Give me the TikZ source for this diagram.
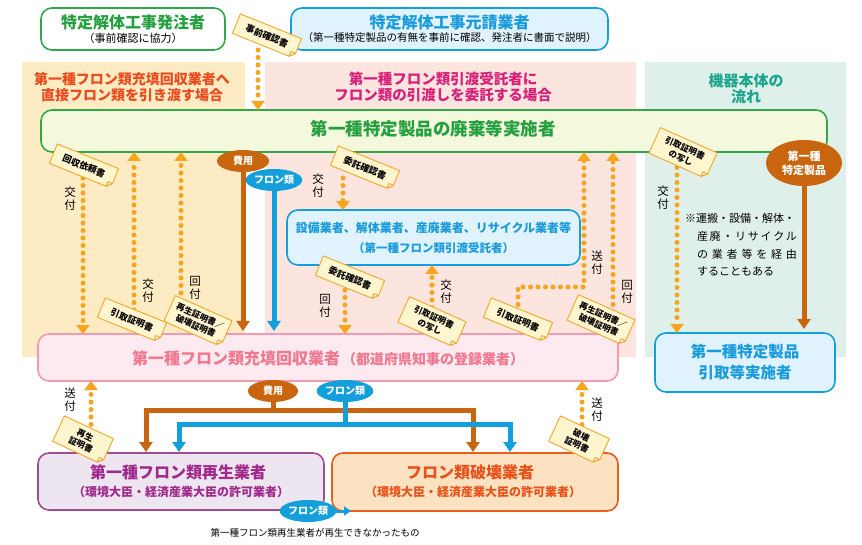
\documentclass[tikz,border=0pt]{standalone}
\usepackage{fontspec}
\setmainfont{Noto Sans CJK JP}
\usetikzlibrary{arrows.meta,calc,shapes.geometric}
\pgfdeclarelayer{mid}
\pgfdeclarelayer{tagbg}
\pgfdeclarelayer{tagfg}
\pgfsetlayers{main,mid,tagbg,tagfg}
\definecolor{dotc}{HTML}{F8A41C}
\definecolor{brownc}{HTML}{C8650E}
\definecolor{bluec}{HTML}{129FDB}
\definecolor{bluet}{HTML}{1A9BDB}
\definecolor{bluefill}{HTML}{E0F3FC}
\definecolor{greenb}{HTML}{33A64A}
\definecolor{greent}{HTML}{25A040}
\definecolor{mainfill}{HTML}{F4F8DC}
\definecolor{pinkb}{HTML}{F19BB2}
\definecolor{pinkfill}{HTML}{FDEAF0}
\definecolor{pinkt}{HTML}{F0788F}
\definecolor{purpb}{HTML}{A24A92}
\definecolor{purpfill}{HTML}{EDE6F0}
\definecolor{purpt}{HTML}{A0298B}
\definecolor{orgb}{HTML}{E85C1C}
\definecolor{orgfill}{HTML}{FDE2C2}
\definecolor{orgt}{HTML}{E8521A}
\definecolor{hLc}{HTML}{EA4B1D}
\definecolor{hMc}{HTML}{D8207A}
\definecolor{hRc}{HTML}{1CA58C}
\definecolor{panL}{HTML}{FDEBC3}
\definecolor{panM}{HTML}{FBE5DE}
\definecolor{panR}{HTML}{DFF0EB}
\definecolor{tagfill}{HTML}{FFF5CF}
\definecolor{tagline}{HTML}{F5A529}
\definecolor{foldfill}{HTML}{FFFBEA}
\newcommand\fsz[1]{\fontsize{#1}{#1}\selectfont}
\newcommand\tagnote[6]{% name, x, y, angle, style, text
  \begin{pgfonlayer}{tagfg}
  \node[#5, rotate=#4] (#1) at (#2,#3) {#6};
  \end{pgfonlayer}
  \begin{pgfonlayer}{tagbg}
  \coordinate (#1a) at ($(#1.south east)!5pt!(#1.north east)$);
  \coordinate (#1b) at ($(#1.south east)!5pt!(#1.south west)$);
  \filldraw[tagedge] (#1.north west) -- (#1.north east) -- (#1a) -- (#1b) -- (#1.south west) -- cycle;
  \filldraw[tagfoldst] (#1a) -- (#1b) -- ($(#1a)+(#1b)-(#1.south east)$) -- cycle;
  \end{pgfonlayer}
}
\begin{document}
\begin{tikzpicture}[x=1pt,y=-1pt,
  every node/.style={inner sep=0pt, outer sep=0pt},
  rbox/.style={rounded corners=11pt, line width=1.6pt, inner sep=0pt},
  tagone/.style={font=\bfseries\fsz{9}, align=center, inner xsep=5pt, inner ysep=3pt, minimum width=66pt, minimum height=21pt},
  tagtwo/.style={font=\bfseries\fontsize{8.5}{10.5}\selectfont, align=center, inner xsep=5pt, inner ysep=3pt, minimum width=62pt, minimum height=28pt},
  tagsmall/.style={font=\bfseries\fontsize{8.5}{10.5}\selectfont, align=center, inner xsep=5pt, inner ysep=3pt, minimum width=54pt, minimum height=28pt},
  tagedge/.style={draw=tagline, fill=tagfill, line width=0.9pt, line join=round},
  tagfoldst/.style={draw=tagline, fill=foldfill, line width=0.9pt, line join=round},
  vlab/.style={font=\fontsize{11.5}{13}\selectfont, align=center},
  ell/.style={ellipse, text=white, font=\bfseries\fsz{10}, align=center},
  dotarrow/.style={draw=dotc, line width=5pt, line cap=round, dash pattern=on 0pt off 7.5pt, -{Triangle[width=13pt,length=9pt]}},
  brownarrow/.style={draw=brownc, line width=5pt, -{Triangle[width=13pt,length=10pt]}},
  bluearrow/.style={draw=bluec, line width=5pt, -{Triangle[width=13pt,length=10pt]}},
  brownline/.style={draw=brownc, line width=5pt},
  blueline/.style={draw=bluec, line width=5pt}
]
\useasboundingbox (0,0) rectangle (862,545);
\fill[white] (0,0) rectangle (862,545);
% panels
\fill[panL] (22,62) rectangle (245,357);
\fill[panM] (265,62) rectangle (636,357);
\fill[panR] (645,62) rectangle (846,357);

% top boxes
\node[rbox, draw=greenb, fill=white, minimum width=184pt, minimum height=42pt] (hachu) at (133,29) {};
\node[font=\bfseries\fsz{16}, text=greent] (hachuT) at (133,22) {特定解体工事発注者};
\node[font=\fsz{11}] (hachuS) at (133,38) {（事前確認に協力）};
\node[rbox, draw=bluec, fill=bluefill, minimum width=317pt, minimum height=42pt] (moto) at (449.5,29) {};
\node[font=\bfseries\fsz{16}, text=bluet] (motoT) at (449.5,22) {特定解体工事元請業者};
\node[font=\fsz{10.5}] (motoS) at (449.5,38) {（第一種特定製品の有無を事前に確認、発注者に書面で説明）};

% headings
\node[font=\bfseries\fsz{14}, text=hLc] (hL1) at (132,79) {第一種フロン類充填回収業者へ};
\node[font=\bfseries\fsz{14}, text=hLc] (hL2) at (132,95) {直接フロン類を引き渡す場合};
\node[font=\bfseries\fsz{14.5}, text=hMc] (hM1) at (443,79) {第一種フロン類引渡受託者に};
\node[font=\bfseries\fsz{14.5}, text=hMc] (hM2) at (443,95) {フロン類の引渡しを委託する場合};
\node[font=\bfseries\fsz{15}, text=hRc] (hR1) at (746,81) {機器本体の};
\node[font=\bfseries\fsz{15}, text=hRc] (hR2) at (746,97) {流れ};

% main box
\node[rbox, draw=greenb, fill=mainfill, minimum width=786pt, minimum height=42pt] (haiki) at (434,131) {};
\node[font=\bfseries\fsz{17.5}, text=greent] (haikiT) at (433,129) {第一種特定製品の廃棄等実施者};

% middle box
\node[rbox, draw=bluec, fill=bluefill, minimum width=293pt, minimum height=55pt] (itaku) at (433.5,237.5) {};
\node[font=\bfseries\fsz{12}, text=bluet] (itakuT) at (433.5,228) {設備業者、解体業者、産廃業者、リサイクル業者等};
\node[font=\bfseries\fsz{11.5}, text=bluet] (itakuS) at (433.5,248) {（第一種フロン類引渡受託者）};

% recovery box
\node[rbox, draw=pinkb, fill=pinkfill, minimum width=580pt, minimum height=47pt] (recov) at (328,357.5) {};
\node[font=\bfseries, text=pinkt] (recovT) at (328,358) {{\fsz{16}第一種フロン類充填回収業者}\hspace{2pt}{\fsz{14}（都道府県知事の登録業者）}};

% hikitori box
\node[rbox, draw=bluec, fill=bluefill, minimum width=180pt, minimum height=59pt] (hikitori) at (745,362.5) {};
\node[font=\bfseries\fsz{15.5}, text=bluet] (hikitoriT1) at (745,352) {第一種特定製品};
\node[font=\bfseries\fsz{15.5}, text=bluet] (hikitoriT2) at (745,373) {引取等実施者};

% regen / destroy
\node[rbox, draw=purpb, fill=purpfill, minimum width=286pt, minimum height=57pt] (regen) at (181,481.5) {};
\node[font=\bfseries\fsz{16}, text=purpt] (regenT) at (178,472) {第一種フロン類再生業者};
\node[font=\bfseries\fsz{12}, text=purpt] (regenS) at (181,492) {（環境大臣・経済産業大臣の許可業者）};
\node[rbox, draw=orgb, fill=orgfill, minimum width=286pt, minimum height=58pt] (destroy) at (475,482) {};
\node[font=\bfseries\fsz{16}, text=orgt] (destroyT) at (470,472) {フロン類破壊業者};
\node[font=\bfseries\fsz{12}, text=orgt] (destroyS) at (473,492) {（環境大臣・経済産業大臣の許可業者）};

% ellipses (above connectors)
\begin{pgfonlayer}{mid}
\node[ell, fill=brownc, minimum width=52pt, minimum height=22pt] (fee1) at (243,161) {費用};
\node[ell, fill=bluec, minimum width=54pt, minimum height=22pt] (fre1) at (274,180) {フロン類};
\node[ell, fill=brownc, minimum width=76pt, minimum height=46pt, font=\bfseries\fontsize{11}{14}\selectfont] (prod) at (804,163) {第一種\\特定製品};
\node[ell, fill=brownc, minimum width=50pt, minimum height=22pt] (fee2) at (273,391) {費用};
\node[ell, fill=bluec, minimum width=54pt, minimum height=22pt] (fre2) at (345,391) {フロン類};
\node[ell, fill=bluec, minimum width=54pt, minimum height=22pt] (fre3) at (308,511) {フロン類};
\end{pgfonlayer}

% ---- connectors ----
\coordinate (j1) at (258,50);
\draw[dotarrow] (j1) -- (j1 |- haiki.north);

\coordinate (a1s) at (83,178);
\draw[dotarrow] (a1s) -- (a1s |- recov.north);
\coordinate (a2s) at (134,310);
\draw[dotarrow] (a2s) -- (a2s |- haiki.south);
\coordinate (a3s) at (181,308);
\draw[dotarrow] (a3s) -- (a3s |- haiki.south);

\draw[brownarrow, shorten >=3pt] (fee1.center |- haiki.south) -- (fee1.center |- recov.north);
\draw[bluearrow, shorten >=3pt] (fre1.center) -- (fre1.center |- recov.north);

\coordinate (m1s) at (343,178);
\draw[dotarrow] (m1s) -- (m1s |- itaku.north);
\coordinate (m2s) at (345,290);
\draw[dotarrow] (m2s) -- (m2s |- recov.north);
\coordinate (m3s) at (432,315);
\draw[dotarrow] (m3s) -- (m3s |- itaku.south);
\coordinate (m4s) at (518,312);
\coordinate (m4c) at (584,287);
\draw[dotarrow] (m4s) |- (m4c) -- (m4c |- haiki.south);
\coordinate (m5s) at (613,312);
\draw[dotarrow] (m5s) -- (m5s |- haiki.south);

\coordinate (r1s) at (677,160);
\draw[dotarrow] (r1s) -- (r1s |- hikitori.north);
\draw[brownarrow, shorten >=4pt] (prod.center) -- (prod.center |- hikitori.north);

\coordinate (b1s) at (91,432);
\draw[dotarrow] (b1s) -- (b1s |- recov.south);
\coordinate (b2s) at (582,432);
\draw[dotarrow] (b2s) -- (b2s |- recov.south);

\coordinate (bj) at (273,410);
\coordinate (bL) at (146,410);
\coordinate (bR) at (473,410);
\coordinate (cj) at (345,424);
\coordinate (cL) at (179,424);
\coordinate (cR) at (510,424);
\draw[brownline] (fee2.center) -- (bj);
\draw[brownarrow, shorten >=1pt] (bj) -- (bL) -- (bL |- regen.north);
\draw[brownarrow, shorten >=1pt] (bj) -- (bR) -- (bR |- destroy.north);
\draw[blueline] (fre2.center) -- (cj);
\draw[bluearrow, shorten >=1pt] (cj) -- (cL) -- (cL |- regen.north);
\draw[bluearrow, shorten >=1pt] (cj) -- (cR) -- (cR |- destroy.north);

\coordinate (f3e) at (351,511);
\draw[draw=bluec, line width=3pt, -{Triangle[width=9pt,length=7pt]}] (fre3.east) -- (f3e);

% labels
\node[vlab] (l1) at (70,199) {交\\付};
\node[vlab] (l2) at (148,291) {交\\付};
\node[vlab] (l3) at (195,288) {回\\付};
\node[vlab] (l4) at (318,186) {交\\付};
\node[vlab] (l5) at (325,306) {回\\付};
\node[vlab] (l6) at (446,292) {交\\付};
\node[vlab] (l7) at (597,263) {送\\付};
\node[vlab] (l8) at (627,292) {回\\付};
\node[vlab] (l9) at (663,198) {交\\付};
\node[vlab] (l10) at (70,400) {送\\付};
\node[vlab] (l11) at (597,410) {送\\付};

% right note
\node[anchor=west, font=\fsz{11}] (note1) at (685,218) {※運搬・設備・解体・};
\node[anchor=west, font=\fsz{11}] (note2) at (697,236) {\makebox[100pt][s]{産\hfill 廃\hfill ・\hfill リ\hfill サ\hfill イ\hfill ク\hfill ル}};
\node[anchor=west, font=\fsz{11}] (note3) at (697,254) {\makebox[100pt][s]{の\hfill 業\hfill 者\hfill 等\hfill を\hfill 経\hfill 由}};
\node[anchor=west, font=\fsz{11}] (note4) at (697,271) {することもある};

% bottom note
\node[font=\fsz{9.5}] (bnote) at (315,533) {第一種フロン類再生業者が再生できなかったもの};

% tags
\tagnote{tJizen}{267}{36}{-22}{tagone}{事前確認書}
\tagnote{tKaishu}{84}{166}{-22}{tagone}{回収依頼書}
\tagnote{tHikiA}{132}{320}{-22}{tagone}{引取証明書}
\tagnote{tSaiseiA}{198}{321}{-24}{tagtwo}{再生証明書／\\破壊証明書}
\tagnote{tItakuA}{365}{168}{-22}{tagone}{委託確認書}
\tagnote{tItakuB}{350}{278}{-22}{tagone}{委託確認書}
\tagnote{tUtsushiA}{432}{322}{-24}{tagtwo}{引取証明書\\の写し}
\tagnote{tHikiB}{518}{320}{-22}{tagone}{引取証明書}
\tagnote{tSaiseiB}{601}{320}{-24}{tagtwo}{再生証明書／\\破壊証明書}
\tagnote{tUtsushiB}{683}{153}{-24}{tagtwo}{引取証明書\\の写し}
\tagnote{tSaiseiC}{83}{440}{-25}{tagsmall}{再生\\証明書}
\tagnote{tHakai}{579}{440}{-25}{tagsmall}{破壊\\証明書}
\end{tikzpicture}
\end{document}
